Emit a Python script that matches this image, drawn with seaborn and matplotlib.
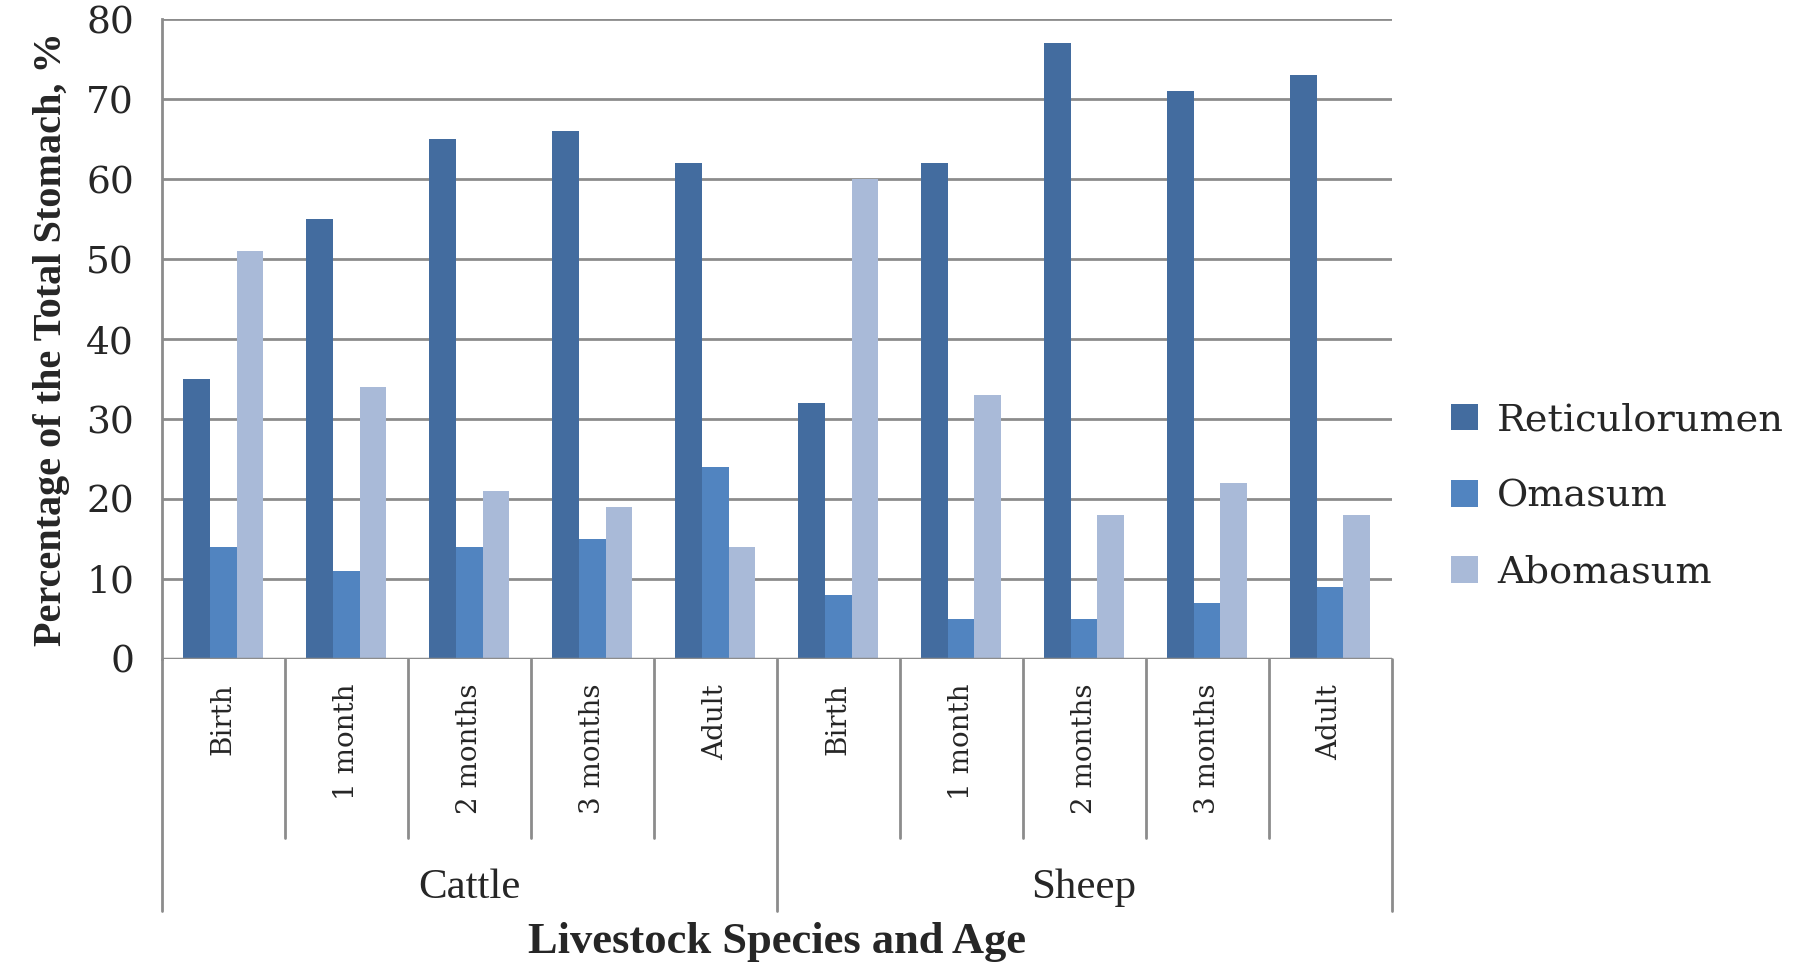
import pandas as pd
import matplotlib.pyplot as plt
import matplotlib.transforms as mtransforms
import seaborn as sns

# chart data
species = ["Cattle", "Sheep"]
ages = ["Birth", "1 month", "2 months", "3 months", "Adult"]
parts = ["Reticulorumen", "Omasum", "Abomasum"]
reticulorumen = [35, 55, 65, 66, 62, 32, 62, 77, 71, 73]
omasum = [14, 11, 14, 15, 24, 8, 5, 5, 7, 9]
abomasum = [51, 34, 21, 19, 14, 60, 33, 18, 22, 18]
colors = ["#436C9F", "#5184C0", "#A9BAD8"]

# long table for seaborn
cats = [f"{s}|{a}" for s in species for a in ages]
rows = []
for part, vals in zip(parts, [reticulorumen, omasum, abomasum]):
    for c, v in zip(cats, vals):
        rows.append({"cat": c, "part": part, "value": v})
df = pd.DataFrame(rows)

sns.set_style("white")
plt.rcParams["font.family"] = ["DejaVu Serif"]

fig = plt.figure(figsize=(18.19, 9.66), dpi=100)
ax = fig.add_axes([0.089, 0.318, 0.676, 0.662])

sns.barplot(data=df, x="cat", y="value", hue="part", order=cats,
            hue_order=parts, palette=colors, width=0.65, saturation=1,
            edgecolor="none", linewidth=0, ax=ax)

grid_c = "#8C8C8C"
ax.set_ylim(0, 80)
ax.set_xlim(-0.5, len(cats) - 0.5)
ax.set_yticks(range(0, 81, 10))
ax.yaxis.grid(True, color=grid_c, linewidth=2)
ax.set_axisbelow(True)
for side in ["top", "right", "bottom"]:
    ax.spines[side].set_visible(False)
ax.spines["left"].set_color(grid_c)
ax.spines["left"].set_linewidth(2)
ax.axhline(0, color=grid_c, linewidth=2.5, zorder=3)
ax.tick_params(axis="y", length=12, width=2, color=grid_c, labelsize=27, pad=8)
ax.tick_params(axis="x", length=0, pad=18)
ax.set_xticks(range(len(cats)))
ax.set_xticklabels([c.split("|")[1] for c in cats], rotation=90, va="top",
                   fontsize=20)
ax.set_xlabel("")
ax.set_ylabel("Percentage of the Total Stomach, %", fontsize=29,
              fontweight="bold", family=["Liberation Serif"], labelpad=12)

# category separators below the axis
trans = mtransforms.blended_transform_factory(ax.transData, ax.transAxes)
for i in range(len(cats) + 1):
    x = i - 0.5
    y_end = -0.394 if i % len(ages) == 0 else -0.28
    ax.plot([x, x], [0, y_end], color=grid_c, linewidth=2,
            transform=trans, clip_on=False)
for j, s in enumerate(species):
    ax.text(j * len(ages) + (len(ages) - 1) / 2, -0.358, s, transform=trans,
            ha="center", va="center", fontsize=31,
            family=["Liberation Serif"])
ax.text(0.5, -0.443, "Livestock Species and Age", transform=ax.transAxes,
        ha="center", va="center", fontsize=32, fontweight="bold",
        family=["Liberation Serif"])

ax.legend(loc="center left", bbox_to_anchor=(0.779, 0.486),
          bbox_transform=fig.transFigure, frameon=False, fontsize=27.5,
          handlelength=0.7, handleheight=0.7, labelspacing=1.05,
          handletextpad=0.5)

fig.savefig("out.png", dpi=100)
